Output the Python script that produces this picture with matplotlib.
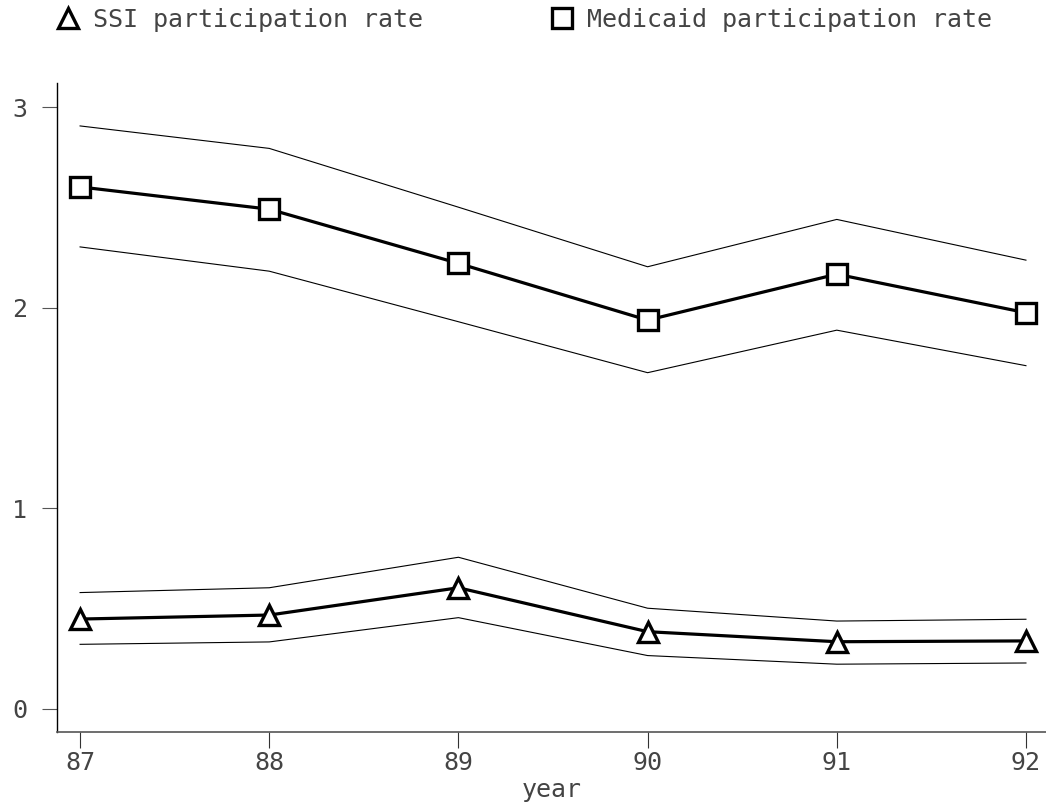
import matplotlib
matplotlib.use("Agg")
import matplotlib.pyplot as plt
from matplotlib.lines import Line2D

years = [87, 88, 89, 90, 91, 92]
medicaid = [2.602, 2.491, 2.221, 1.938, 2.167, 1.975]
medicaid_hi = [2.906, 2.794, 2.501, 2.204, 2.440, 2.237]
medicaid_lo = [2.303, 2.182, 1.930, 1.676, 1.888, 1.711]
ssi = [0.448, 0.468, 0.604, 0.385, 0.335, 0.339]
ssi_hi = [0.580, 0.604, 0.756, 0.502, 0.438, 0.447]
ssi_lo = [0.322, 0.334, 0.455, 0.266, 0.223, 0.229]
yticks = [0, 1, 2, 3]

plt.rcParams['font.family'] = ['DejaVu Sans Mono']
FS = 18
TXT = '#444444'

fig = plt.figure(figsize=(10.46, 8.10), dpi=100)
ax = fig.add_axes([57/1046, 78/810, 1 - 57/1046, (732-83)/810])

for lo, hi in [(medicaid_lo, medicaid_hi), (ssi_lo, ssi_hi)]:
    ax.plot(years, lo, color='black', lw=0.8)
    ax.plot(years, hi, color='black', lw=0.8)

ax.plot(years, medicaid, color='black', lw=2.3, marker='s', ms=14,
        mfc='white', mec='black', mew=2.4, zorder=5)
ax.plot(years, ssi, color='black', lw=2.3, marker='^', ms=15,
        mfc='white', mec='black', mew=2.4, zorder=5)

ax.set_xlim(86.878, 92.106)
ax.set_ylim(-0.115, 3.12)
ax.set_xticks(years)
ax.set_xticklabels([str(y) for y in years])
ax.set_yticks(yticks)

for s in ['top', 'right']:
    ax.spines[s].set_visible(False)
ax.spines['left'].set_color('black')
ax.spines['left'].set_linewidth(1.0)
ax.spines['bottom'].set_color('#555555')
ax.spines['bottom'].set_linewidth(1.2)

ax.tick_params(axis='y', length=10.8, width=0.8, color='#555555', pad=10.5,
               labelsize=FS, labelcolor=TXT)
ax.tick_params(axis='x', length=11.5, width=0.8, color='#333333', pad=2.5,
               labelsize=FS, labelcolor=TXT)
ax.set_xlabel('year', fontsize=FS, color=TXT, labelpad=2)

handles = [
    Line2D([], [], linestyle='none', marker='^', ms=15, mfc='white',
           mec='black', mew=2.4),
    Line2D([], [], linestyle='none', marker='s', ms=14, mfc='white',
           mec='black', mew=2.4),
]
leg = fig.legend(handles, ['SSI participation rate', 'Medicaid participation rate'],
                 loc='center left', bbox_to_anchor=(55.5/1046, 1 - 20/810),
                 ncol=2, frameon=False, fontsize=FS, handlelength=1.0,
                 handletextpad=0.5, columnspacing=5.05, borderpad=0,
                 borderaxespad=0)
for t in leg.get_texts():
    t.set_color(TXT)

fig.savefig('out.png', dpi=100)
